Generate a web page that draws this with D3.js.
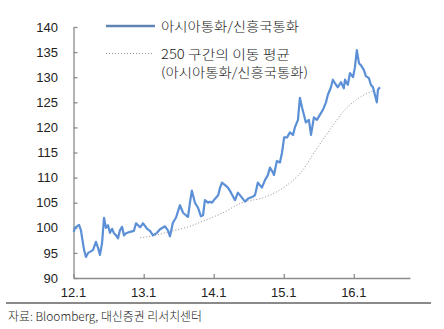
<!DOCTYPE html>
<html>
<head>
<meta charset="utf-8">
<script src="https://cdn.jsdelivr.net/npm/d3@7/dist/d3.min.js"></script>
<style>
  html, body { margin: 0; padding: 0; background: #fff; }
  svg { display: block; }
</style>
</head>
<body>
<svg id="chart" width="444" height="329"></svg>
<script>
// 아시아통화/신흥국통화 비율 (일별 관측치 발췌)
const seriesDates = [
  "2012-01-02","2012-01-09","2012-01-19","2012-01-30","2012-02-09","2012-02-14","2012-02-25","2012-03-06",
  "2012-03-17","2012-03-27","2012-04-12","2012-04-27","2012-05-08","2012-05-18","2012-05-29","2012-06-08",
  "2012-06-18","2012-06-29","2012-07-09","2012-07-20","2012-07-30","2012-08-10","2012-08-20","2012-08-30",
  "2012-09-10","2012-09-20","2012-10-01","2012-10-22","2012-11-11","2012-11-22","2012-12-13","2012-12-28",
  "2013-01-19","2013-02-03","2013-02-18","2013-03-11","2013-03-27","2013-04-22","2013-05-07","2013-05-18",
  "2013-06-02","2013-06-18","2013-07-09","2013-07-25","2013-08-09","2013-08-20","2013-08-30","2013-09-09",
  "2013-09-25","2013-10-11","2013-10-26","2013-11-06","2013-11-16","2013-12-02","2013-12-12","2013-12-23",
  "2014-01-08","2014-01-24","2014-02-03","2014-02-13","2014-03-01","2014-03-16","2014-04-01","2014-04-22",
  "2014-05-07","2014-05-28","2014-06-13","2014-06-28","2014-07-09","2014-07-24","2014-08-04","2014-08-19",
  "2014-09-09","2014-09-25","2014-10-10","2014-10-21","2014-11-06","2014-11-11","2014-11-26","2014-12-12",
  "2014-12-23","2015-01-03","2015-01-18","2015-02-02","2015-02-18","2015-02-28","2015-03-16","2015-03-26",
  "2015-04-06","2015-04-16","2015-04-26","2015-05-12","2015-05-23","2015-06-07","2015-06-23","2015-07-08",
  "2015-07-24","2015-08-09","2015-08-19","2015-09-04","2015-09-14","2015-09-30","2015-10-10","2015-10-26",
  "2015-11-10","2015-11-16","2015-12-01","2015-12-12","2015-12-28","2016-01-07","2016-01-17","2016-01-28",
  "2016-02-07","2016-02-23","2016-03-04","2016-03-20","2016-03-30","2016-04-10","2016-04-20","2016-04-30",
  "2016-05-06","2016-05-16"
];
const seriesValues = [
  99.2,100.0,100.3,100.6,99.5,98.2,95.6,94.2,
  95.0,95.2,95.6,97.2,96.0,94.6,97.0,102.0,
  100.0,100.5,99.0,99.8,98.9,98.5,97.9,99.5,
  100.2,98.5,98.9,99.2,99.4,100.9,100.1,100.9,
  99.8,99.4,98.5,99.0,99.7,100.3,99.5,98.3,
  101.0,102.0,104.5,103.0,102.5,102.2,105.0,107.4,
  105.0,104.0,102.3,102.5,105.5,105.0,105.2,105.0,
  105.8,106.5,108.0,109.0,108.5,108.0,107.0,105.5,
  107.0,106.0,105.2,105.8,106.0,106.2,106.5,109.0,
  108.0,109.5,110.5,112.0,111.0,110.5,113.3,113.0,
  115.0,118.0,118.0,119.0,118.5,120.0,121.5,125.9,
  124.0,122.5,121.0,121.5,118.5,122.0,121.5,122.5,
  123.5,125.0,126.5,128.0,129.5,128.5,128.0,129.0,
  127.8,129.5,128.5,130.8,130.0,132.0,135.4,132.8,
  132.4,131.4,130.2,129.8,128.5,128.0,126.5,125.0,
  127.5,128.0
];

// 250 구간 이동 평균
const maDates = [
  "2012-12-14","2013-03-01","2013-06-02","2013-08-30","2013-11-16","2014-02-13","2014-05-28","2014-09-25",
  "2015-01-03","2015-04-06","2015-06-12","2015-08-29","2015-11-16","2016-02-02","2016-04-20"
];
const maValues = [
  98.0,98.5,99.4,100.3,101.5,102.9,105.0,106.1,
  108.1,111.3,115.2,119.5,123.5,126.0,127.4
];

const yTicks = [90, 95, 100, 105, 110, 115, 120, 125, 130, 135, 140];
const xTickDates = ["2012-01-01", "2013-01-01", "2014-01-01", "2015-01-01", "2016-01-01"];
const xTickLabels = ["12.1", "13.1", "14.1", "15.1", "16.1"];

const legendLabels = ["아시아통화/신흥국통화", "250 구간의 이동 평균", "(아시아통화/신흥국통화)"];
const sourceText = "자료: Bloomberg, 대신증권 리서치센터";

const parse = d3.timeParse("%Y-%m-%d");
const series = seriesDates.map((d, i) => ({ date: parse(d), value: seriesValues[i] }));
const ma = maDates.map((d, i) => ({ date: parse(d), value: maValues[i] }));

const svg = d3.select("#chart");
const plotLeft = 73.5, plotRight = 410, plotTop = 27, plotBottom = 278;
const axisColor = "#8c8c8c";
const textColor = "#222";
const numFont = "'Liberation Sans', Arial, sans-serif";
const krFont = "'Noto Sans CJK KR', 'Noto Sans', sans-serif";

const x = d3.scaleTime()
  .domain([parse("2012-01-01"), parse("2016-10-20")])
  .range([plotLeft, plotRight]);
const y = d3.scaleLinear().domain([90, 140]).range([plotBottom, plotTop]);

// Y axis: ticks point inward
const yAxis = svg.append("g")
  .attr("transform", `translate(${plotLeft},0)`)
  .call(d3.axisRight(y).tickValues(yTicks).tickSize(4).tickSizeOuter(0).tickFormat(""));
yAxis.select(".domain").attr("stroke", axisColor).attr("stroke-width", 1.3);
yAxis.selectAll(".tick line").attr("stroke", axisColor).attr("stroke-width", 1.3);

svg.append("g").selectAll("text").data(yTicks).join("text")
  .attr("x", 58).attr("y", d => y(d))
  .attr("dy", "0.36em")
  .attr("text-anchor", "end")
  .attr("font-family", numFont).attr("font-size", 13)
  .attr("fill", textColor)
  .text(d => d);

// X axis: ticks point upward
const xAxis = svg.append("g")
  .attr("transform", `translate(0,${plotBottom})`)
  .call(d3.axisTop(x).tickValues(xTickDates.map(parse)).tickSize(4).tickSizeOuter(0).tickFormat(""));
xAxis.select(".domain").attr("stroke", axisColor).attr("stroke-width", 1.3);
xAxis.selectAll(".tick line").attr("stroke", axisColor).attr("stroke-width", 1.3);

svg.append("g").selectAll("text").data(xTickDates).join("text")
  .attr("x", d => x(parse(d))).attr("y", 297)
  .attr("text-anchor", "middle")
  .attr("font-family", numFont).attr("font-size", 13)
  .attr("fill", textColor)
  .text((d, i) => xTickLabels[i]);

// Moving average (dotted)
svg.append("path").datum(ma)
  .attr("d", d3.line().x(d => x(d.date)).y(d => y(d.value)).curve(d3.curveMonotoneX))
  .attr("fill", "none")
  .attr("stroke", "#8f8f8f")
  .attr("stroke-width", 1)
  .attr("stroke-dasharray", "1,2");

// Currency ratio series
svg.append("path").datum(series)
  .attr("d", d3.line().x(d => x(d.date)).y(d => y(d.value)))
  .attr("fill", "none")
  .attr("stroke", "#5b8fd6")
  .attr("stroke-width", 2.2)
  .attr("stroke-linejoin", "round");

// Legend
const lg = svg.append("g");
lg.append("line").attr("x1", 106).attr("x2", 155).attr("y1", 26).attr("y2", 26)
  .attr("stroke", "#5f84b3").attr("stroke-width", 2.5);
lg.append("line").attr("x1", 106).attr("x2", 154).attr("y1", 53.5).attr("y2", 53.5)
  .attr("stroke", "#8f8f8f").attr("stroke-width", 1).attr("stroke-dasharray", "1,2");
const legendY = [26, 54, 72];
const legendW = [138, 129, 147];
lg.selectAll("text").data(legendLabels).join("text")
  .attr("x", 161).attr("y", (d, i) => legendY[i])
  .attr("dy", "0.36em")
  .attr("font-family", krFont).attr("font-size", 13).attr("font-weight", 300)
  .attr("fill", textColor)
  .attr("textLength", (d, i) => legendW[i])
  .attr("lengthAdjust", "spacingAndGlyphs")
  .text(d => d);

// Footer rule and source
svg.append("line").attr("x1", 6).attr("x2", 431).attr("y1", 303).attr("y2", 303)
  .attr("stroke", "#8a8a8a").attr("stroke-width", 2);
svg.append("text")
  .attr("x", 8).attr("y", 317).attr("dy", "0.36em")
  .attr("font-family", krFont).attr("font-size", 12).attr("font-weight", 300)
  .attr("fill", textColor)
  .attr("textLength", 194).attr("lengthAdjust", "spacingAndGlyphs")
  .text(sourceText);
</script>
</body>
</html>
